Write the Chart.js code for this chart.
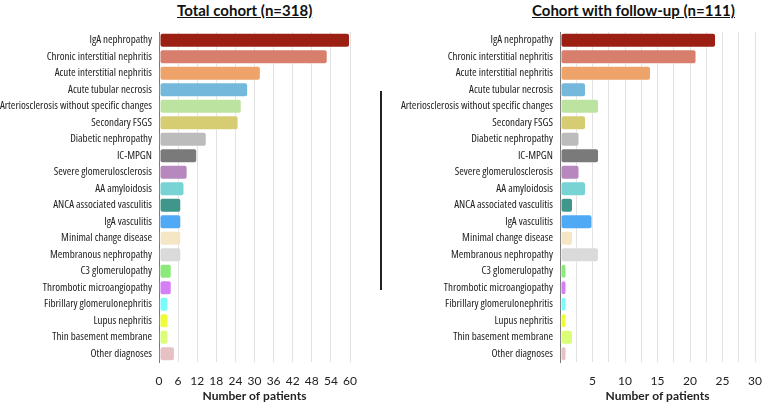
<!DOCTYPE html>
<html>
<head>
<meta charset="utf-8">
<script src="https://cdn.jsdelivr.net/npm/chart.js@4/dist/chart.umd.min.js"></script>
<style>
body { margin:0; background:#fff; width:765px; height:403px; position:relative; overflow:hidden; }
.titre { position:absolute; top:1px; font-weight:bold; font-size:15px; text-decoration:underline; color:#111; white-space:nowrap; font-family:Lato,"Open Sans",sans-serif; }
#trait { position:absolute; left:380px; top:91px; width:1.5px; height:199px; background:#222; }
canvas { position:absolute; top:0; }
</style>
</head>
<body>
<div class="titre" id="titreTotal" style="left:177px;">Total cohort (n=318)</div>
<div class="titre" id="titreSuivi" style="left:532px;">Cohort with follow-up (n=111)</div>
<div id="trait"></div>
<canvas id="graphTotal" style="left:0px;"></canvas>
<canvas id="graphSuivi" style="left:380px;"></canvas>
<script>
var diagnostics = ['IgA nephropathy','Chronic interstitial nephritis','Acute interstitial nephritis','Acute tubular necrosis',
  'Arteriosclerosis without specific changes','Secondary FSGS','Diabetic nephropathy','IC-MPGN','Severe glomerulosclerosis',
  'AA amyloidosis','ANCA associated vasculitis','IgA vasculitis','Minimal change disease','Membranous nephropathy',
  'C3 glomerulopathy','Thrombotic microangiopathy','Fibrillary glomerulonephritis','Lupus nephritis','Thin basement membrane','Other diagnoses'];
var patientsTotal = [60,53,32,28,26,25,15,12,9,8,7,7,7,7,4,4,3,3,3,5];
var patientsSuivi = [24,21,14,4,6,4,3,6,3,4,2,5,2,6,1,1,1,1,2,1];
var couleurs = ['#9b1f13','#d77f6c','#eda36a','#74b9db','#bde3a0','#d6cc72','#bcbcbc','#7a7a7a','#b788bd','#77d3d4',
  '#3e978a','#4fa9f5','#f5e6c6','#dadada','#8aea7a','#d57ff5','#7afcfb','#eefc3a','#dcfd78','#e6c2c4'];
var ticksTotal = {max:60, step:6};
var ticksSuivi = {max:30, step:2.5};

function afficherGraph(id, largeur, valeurs, axe, largeurY, padDroite, cacherZero)
{
    var canvas = document.getElementById(id);
    canvas.width = largeur; canvas.height = 403;
    canvas.style.width = largeur+'px'; canvas.style.height = '403px';
    return new Chart(canvas.getContext('2d'), {
        type: 'bar',
        data: {
            labels: diagnostics,
            datasets: [{
                data: valeurs,
                backgroundColor: couleurs,
                borderColor: 'rgba(255,255,255,0.45)',
                borderWidth: 1,
                borderRadius: 3,
                borderSkipped: false,
                categoryPercentage: 1,
                barPercentage: 0.9
            }]
        },
        options: {
            indexAxis: 'y',
            responsive: false,
            animation: false,
            layout: { padding: { top: 32, right: padDroite, bottom: 0, left: 0 } },
            plugins: { legend: { display: false }, tooltip: { enabled: false } },
            scales: {
                x: {
                    min: 0, max: axe.max,
                    grid: { color: '#e2e2e2', lineWidth: 1, drawTicks: false },
                    border: { display: false },
                    ticks: {
                        stepSize: axe.step, padding: 12, color: '#222',
                        font: { family: 'Lato', size: 12 },
                        maxRotation: 0, autoSkip: false,
                        callback: function(v) {
                            if (cacherZero) { return (v > 0 && v % 5 === 0) ? v : ''; }
                            return v;
                        }
                    },
                    title: { display: true, text: 'Number of patients', color: '#222', padding: 0,
                             font: { family: 'Lato', size: 12, weight: 'bold' } },
                    afterFit: function(s) { s.height = 41; }
                },
                y: {
                    grid: { display: false, drawTicks: false },
                    border: { display: true, color: '#777', width: 1 },
                    ticks: { padding: 7, color: '#222', font: { family: '"Open Sans"', size: 11, weight: '400 condensed' }, autoSkip: false },
                    afterFit: function(s) { s.width = largeurY; }
                }
            }
        }
    });
}

afficherGraph('graphTotal', 372, patientsTotal, ticksTotal, 159, 22, false);
afficherGraph('graphSuivi', 394, patientsSuivi, ticksSuivi, 180, 7, true);
</script>
</body>
</html>
